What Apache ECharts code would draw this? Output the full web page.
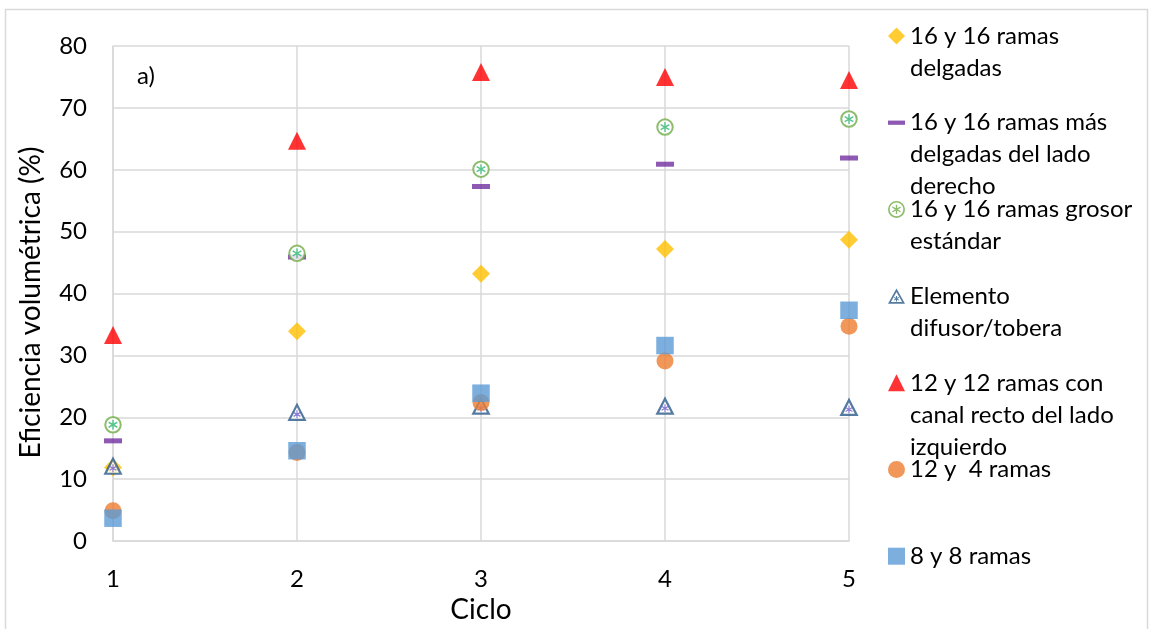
<!DOCTYPE html>
<html>
<head>
<meta charset="utf-8">
<script src="https://cdn.jsdelivr.net/npm/echarts@6/dist/echarts.min.js"></script>
<style>
html,body{margin:0;padding:0;background:#fff;}
#c{width:1153px;height:629px;}
</style>
</head>
<body>
<div id="c"></div>
<script>
// ---- data ----
const ciclos = [1, 2, 3, 4, 5];
const yTicks = [0, 10, 20, 30, 40, 50, 60, 70, 80];
const ramas16Delgadas = [11.9, 33.9, 43.2, 47.2, 48.7];
const ramas16MasDelgadas = [16.2, 45.9, 57.3, 60.9, 61.9];
const ramas16Estandar = [18.8, 46.5, 60.1, 66.9, 68.2];
const difusorTobera = [12.1, 20.8, 21.8, 21.8, 21.6];
const ramas12Canal = [33.3, 64.7, 75.8, 75.0, 74.5];
const ramas12y4 = [4.9, 14.3, 22.4, 29.1, 34.7];
const ramas8y8 = [3.7, 14.6, 23.9, 31.6, 37.3];

const seriesNames = [
  '16 y 16 ramas delgadas',
  '16 y 16 ramas más delgadas del lado derecho',
  '16 y 16 ramas grosor estándar',
  'Elemento difusor/tobera',
  '12 y 12 ramas con canal recto del lado izquierdo',
  '12 y  4 ramas',
  '8 y 8 ramas'
];
const legendLines = [
  ['16 y 16 ramas', 'delgadas'],
  ['16 y 16 ramas más', 'delgadas del lado', 'derecho'],
  ['16 y 16 ramas grosor', 'estándar'],
  ['Elemento', 'difusor/tobera'],
  ['12 y 12 ramas con', 'canal recto del lado', 'izquierdo'],
  ['12 y  4 ramas'],
  ['8 y 8 ramas']
];
const xLabel = 'Ciclo';
const yLabel = 'Eficiencia volumétrica (%)';
const panelLabel = 'a)';

// ---- symbols ----
const circleBars = 'M10.8,4.5L9.2,4.5L9.2,15.5L10.8,15.5Z M15.163,7.943L14.363,6.557L4.837,12.057L5.637,13.443Z M5.637,6.557L4.837,7.943L14.363,13.443L15.163,12.057Z';
const triBars = 'M10.6,8.9L9.4,8.9L9.4,15.3L10.6,15.3Z M13.071,11.02L12.471,9.98L6.929,13.18L7.529,14.22Z M7.529,9.98L6.929,11.02L12.471,14.22L13.071,13.18Z';
const asterisk = 'path://' + circleBars;
const ringStar = 'path://M0,10A10,10,0,1,1,20,10A10,10,0,1,1,0,10Z M2,10A8,8,0,1,0,18,10A8,8,0,1,0,2,10Z ' + circleBars;
const triStar = 'path://M10,0L20,18L0,18Z M10,4.12L3.4,16L16.6,16Z ' + triBars;
const dash = 'path://M0,0H20V5H0Z';

const FONT = 'Lato';
const pts = arr => arr.map((v, i) => [ciclos[i], v]);

const series = [
  {name: seriesNames[0], type: 'scatter', data: pts(ramas16Delgadas), symbol: 'diamond', symbolSize: 18,
   itemStyle: {color: '#FFC000'}},
  {name: seriesNames[1], type: 'scatter', data: pts(ramas16MasDelgadas), symbol: 'rect', symbolSize: [18, 5],
   itemStyle: {color: '#7030A0'}},
  {name: seriesNames[2], type: 'scatter', data: pts(ramas16Estandar), symbol: 'circle', symbolSize: 15.5,
   itemStyle: {color: '#ffffff', borderColor: '#70AD47', borderWidth: 2}},
  {name: '_ast1', type: 'scatter', data: pts(ramas16Estandar), symbol: asterisk, symbolSize: 10, symbolKeepAspect: true,
   itemStyle: {color: '#2FB872'}},
  {name: seriesNames[3], type: 'scatter', data: pts(difusorTobera), symbol: 'triangle', symbolSize: [15.5, 15],
   itemStyle: {color: '#ffffff', borderColor: '#2A5A8A', borderWidth: 2.2}},
  {name: '_ast2', type: 'scatter', data: pts(difusorTobera), symbol: asterisk, symbolSize: 8, symbolKeepAspect: true,
   symbolOffset: [0, 2], itemStyle: {color: '#6A5ACD'}},
  {name: seriesNames[4], type: 'scatter', data: pts(ramas12Canal), symbol: 'triangle', symbolSize: 18,
   itemStyle: {color: '#FF0000'}},
  {name: seriesNames[5], type: 'scatter', data: pts(ramas12y4), symbol: 'circle', symbolSize: 17,
   itemStyle: {color: '#ED7D31'}},
  {name: seriesNames[6], type: 'scatter', data: pts(ramas8y8), symbol: 'rect', symbolSize: [17.5, 17.5],
   itemStyle: {color: '#5B9BD5'}}
];

const legendIcons = ['diamond', dash, ringStar, triStar, 'triangle', 'circle', 'rect'];
const legendIconStyle = [null, null, {color: '#70AD47', borderWidth: 0}, {color: '#2A5A8A', borderWidth: 0}, null, null, null];
const LH = 32;
const legends = seriesNames.map((name, i) => {
  const lines = legendLines[i];
  const n = lines.length;
  const markerY = 36 + i * 86.7;
  const item = {name: name, icon: legendIcons[i]};
  if (legendIconStyle[i]) item.itemStyle = legendIconStyle[i];
  return {
    orient: 'vertical',
    left: 888,
    top: markerY - (2 * n - 1) * LH / 2,
    padding: 0,
    itemWidth: 17,
    itemHeight: 17,
    itemGap: 0,
    selectedMode: false,
    data: [item],
    formatter: '\n'.repeat(n - 1) + lines.join('\n'),
    textStyle: {fontFamily: FONT, fontSize: 24, lineHeight: LH, color: '#000'}
  };
});

const gridColor = '#D9D9D9';
const option = {
  animation: false,
  backgroundColor: '#ffffff',
  title: {text: panelLabel, left: 137, top: 64, padding: 0,
    textStyle: {fontFamily: FONT, fontSize: 24, fontWeight: 'normal', color: '#000'}},
  graphic: [{type: 'rect', z: -10, silent: true,
    shape: {x: 5.5, y: 9.5, width: 1142, height: 640},
    style: {fill: 'none', stroke: gridColor, lineWidth: 1.5}}],
  grid: {left: 113, right: 304, top: 46, bottom: 77, containLabel: false},
  xAxis: {
    type: 'value', min: ciclos[0], max: ciclos[ciclos.length - 1], interval: 1,
    name: xLabel, nameLocation: 'middle', nameGap: 44,
    nameTextStyle: {fontFamily: FONT, fontSize: 28, color: '#000'},
    axisLine: {show: true, lineStyle: {color: gridColor, width: 1.5}},
    axisTick: {show: false},
    splitLine: {show: true, lineStyle: {color: gridColor, width: 1.5}},
    axisLabel: {fontFamily: FONT, fontSize: 24, color: '#000', margin: 26}
  },
  yAxis: {
    type: 'value', min: yTicks[0], max: yTicks[yTicks.length - 1], interval: yTicks[1] - yTicks[0],
    name: yLabel, nameLocation: 'middle', nameGap: 68,
    nameTextStyle: {fontFamily: FONT, fontSize: 28, color: '#000', padding: [0, 18, 0, 0]},
    axisLine: {show: true, lineStyle: {color: gridColor, width: 1.5}},
    axisTick: {show: false},
    splitLine: {show: true, lineStyle: {color: gridColor, width: 1.5}},
    axisLabel: {fontFamily: FONT, fontSize: 24, color: '#000', margin: 26}
  },
  legend: legends,
  series: series
};

const chart = echarts.init(document.getElementById('c'), null, {renderer: 'canvas'});
chart.setOption(option);
</script>
</body>
</html>
